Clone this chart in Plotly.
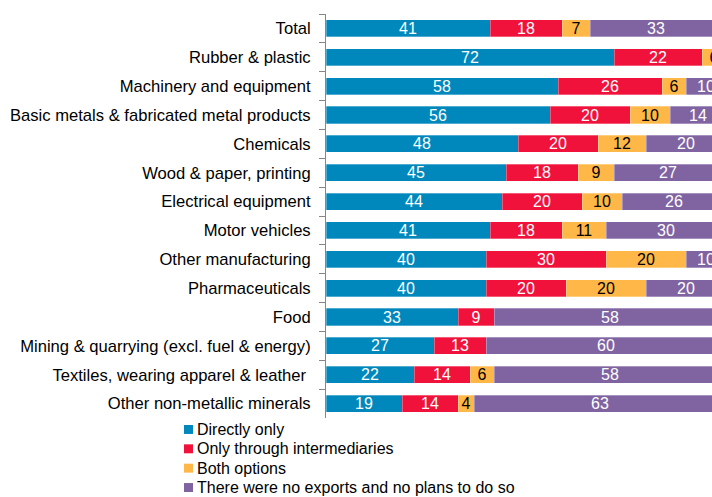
import plotly.graph_objects as go

# Export channel shares (%) by sector
categories = [
    "Total",
    "Rubber & plastic",
    "Machinery and equipment",
    "Basic metals & fabricated metal products",
    "Chemicals",
    "Wood & paper, printing",
    "Electrical equipment",
    "Motor vehicles",
    "Other manufacturing",
    "Pharmaceuticals",
    "Food",
    "Mining & quarrying (excl. fuel & energy)",
    "Textiles, wearing apparel & leather\u00a0",
    "Other non-metallic minerals",
]

directly_only = [41, 72, 58, 56, 48, 45, 44, 41, 40, 40, 33, 27, 22, 19]
through_intermediaries = [18, 22, 26, 20, 20, 18, 20, 18, 30, 20, 9, 13, 14, 14]
both_options = [7, 6, 6, 10, 12, 9, 10, 11, 20, 20, 0, 0, 6, 4]
no_exports = [33, 0, 10, 14, 20, 27, 26, 30, 10, 20, 58, 60, 58, 63]

series_names = [
    "Directly only",
    "Only through intermediaries",
    "Both options",
    "There were no exports and no plans to do so",
]
series_values = [directly_only, through_intermediaries, both_options, no_exports]
series_colors = ["#0088BC", "#F0123A", "#FFB847", "#8064A2"]
label_colors = ["white", "white", "black", "white"]

FONT = "Liberation Sans, Arial, sans-serif"
W, H = 712, 497
M_L, M_R, M_T, M_B = 326, 0, 13.5, 78.5

fig = go.Figure()
for name, vals, col, tcol in zip(series_names, series_values, series_colors, label_colors):
    fig.add_trace(go.Bar(
        y=categories,
        x=[v if v else None for v in vals],
        orientation="h",
        name=name,
        marker=dict(color=col, line=dict(color="rgba(255,255,255,0.6)", width=0.5)),
        text=[str(v) if v else "" for v in vals],
        textposition="inside",
        insidetextanchor="middle",
        textangle=0,
        textfont=dict(family=FONT, size=16, color=tcol),
        hoverinfo="skip",
        showlegend=False,
        cliponaxis=True,
    ))

# Legend drawn as colour squares with labels below the plot area
plot_w = W - M_L - M_R
plot_h = H - M_T - M_B
def px_x(p):
    return (p - M_L) / plot_w
def px_y(p):
    return (H - M_B - p) / plot_h

shapes = []
annotations = []
for i, (name, col) in enumerate(zip(series_names, series_colors)):
    cy = 430 + i * 19.4
    shapes.append(dict(
        type="rect", xref="paper", yref="paper",
        x0=px_x(184), x1=px_x(193), y0=px_y(cy + 4.5), y1=px_y(cy - 4.5),
        fillcolor=col, line=dict(width=0),
    ))
    annotations.append(dict(
        xref="paper", yref="paper", x=px_x(195), y=px_y(cy),
        xanchor="left", yanchor="middle", showarrow=False,
        text=name, font=dict(family=FONT, size=16, color="black"),
    ))

fig.update_layout(
    width=W, height=H,
    margin=dict(l=M_L, r=M_R, t=M_T, b=M_B, pad=0),
    barmode="stack",
    bargap=0.41,
    plot_bgcolor="white",
    paper_bgcolor="white",
    font=dict(family=FONT, size=16, color="black"),
    uniformtext=dict(minsize=16, mode="show"),
    shapes=shapes,
    annotations=annotations,
    xaxis=dict(
        range=[0, plot_w / 4.0],
        showgrid=False, zeroline=False, showline=False,
        showticklabels=False, ticks="", fixedrange=True,
    ),
    yaxis=dict(
        autorange="reversed",
        showgrid=False, zeroline=False,
        showline=True, linecolor="#868686", linewidth=1,
        ticks="outside", tickson="boundaries", ticklen=6,
        tickcolor="#868686", tickwidth=1,
        ticklabelstandoff=11,
        tickfont=dict(family=FONT, size=16.6, color="black"),
    ),
)

fig.write_html("out.html")
